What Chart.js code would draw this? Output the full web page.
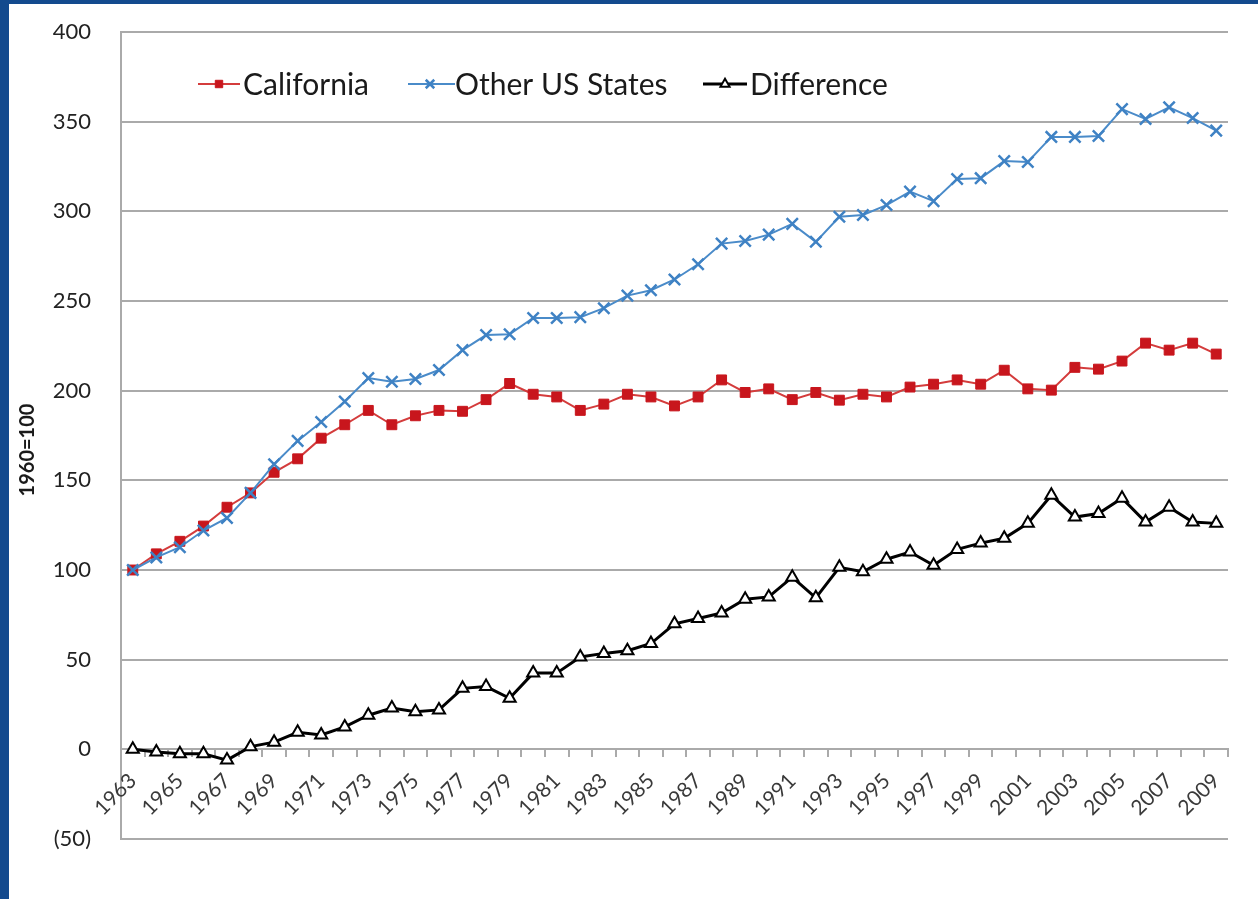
<!DOCTYPE html>
<html>
<head>
<meta charset="utf-8">
<script src="https://cdn.jsdelivr.net/npm/chart.js@4.4.1/dist/chart.umd.min.js"></script>
<style>
  html, body { margin: 0; padding: 0; width: 1258px; height: 899px; overflow: hidden; background: #134a8e; }
  #panel { position: absolute; left: 9px; top: 4px; width: 1249px; height: 895px; background: #ffffff; }
  canvas { display: block; }
</style>
</head>
<body>
<div id="panel"><canvas id="chart" width="1249" height="895"></canvas></div>
<script>
// Years on the category axis
const years = ['1963','1964','1965','1966','1967','1968','1969','1970','1971','1972',
  '1973','1974','1975','1976','1977','1978','1979','1980','1981','1982',
  '1983','1984','1985','1986','1987','1988','1989','1990','1991','1992',
  '1993','1994','1995','1996','1997','1998','1999','2000','2001','2002',
  '2003','2004','2005','2006','2007','2008','2009'];

// Index values, 1960 = 100
const california = [100,109,116,124.5,135,143,154.5,162,173.5,181,
  189,181,186,189,188.5,195,204,198,196.5,189,
  192.5,198,196.5,191.5,196.5,206,199,201,195,199,
  194.7,198,196.5,202,203.6,206,203.6,211.4,201,200.3,
  213,212,216.5,226.5,222.6,226.5,220.4];

const otherStates = [100,107,112.7,122,129,143,159,172,182.5,194,
  207,205,206.5,211.5,222.6,231,231.5,240.5,240.5,241,
  246,253,256,262,270.5,282,283.5,287,293,283,
  297,298,303.5,311,305.7,318,318.5,328,327.5,341.5,
  341.5,342,357,351.5,358,352,345];

const difference = [0,-1.5,-2.5,-2.5,-6,1.5,4,9.5,8,12.5,
  19,23,21,22,34,35,28.5,42.5,42.5,51.5,
  53.5,55,59,70,73,76,83.7,85,96,84.5,
  101.5,99,106,110,102.6,111.5,115,117.7,126,141.7,
  129.5,131.5,140,126.7,135,126.7,126];

const seriesNames = ['California', 'Other US States', 'Difference'];
const yAxisTitle = '1960=100';

const FONT = 'Lato, "Open Sans", sans-serif';
const GRID = '#aaaaaa';

function drawMarker(ctx, style, x, y, r) {
  if (style === 'rect') {
    const s = r * Math.SQRT1_2;
    ctx.rect(x - s, y - s, 2 * s, 2 * s);
  } else if (style === 'crossRot') {
    const o = r * Math.SQRT1_2;
    ctx.moveTo(x - o, y - o); ctx.lineTo(x + o, y + o);
    ctx.moveTo(x - o, y + o); ctx.lineTo(x + o, y - o);
  } else if (style === 'triangle') {
    ctx.moveTo(x, y - r);
    ctx.lineTo(x + 0.866 * r, y + 0.5 * r);
    ctx.lineTo(x - 0.866 * r, y + 0.5 * r);
    ctx.closePath();
  }
}

// Legend drawn inside the plot, plus the rotated value-axis title
const innerLegend = {
  id: 'innerLegend',
  afterDraw(chart) {
    const ctx = chart.ctx;
    const y = 80;
    const items = [
      { x0: 189, x1: 231, mx: 210, text: 234, ds: 0 },
      { x0: 399, x1: 446, mx: 421, text: 446, ds: 1 },
      { x0: 694, x1: 738, mx: 716, text: 741, ds: 2 }
    ];
    ctx.save();
    items.forEach(it => {
      const ds = chart.data.datasets[it.ds];
      ctx.strokeStyle = ds.borderColor;
      ctx.lineWidth = ds.borderWidth;
      ctx.beginPath();
      ctx.moveTo(it.x0, y);
      ctx.lineTo(it.x1, y);
      ctx.stroke();
      ctx.fillStyle = ds.pointBackgroundColor;
      ctx.strokeStyle = ds.pointBorderColor;
      ctx.lineWidth = ds.pointBorderWidth;
      ctx.beginPath();
      drawMarker(ctx, ds.pointStyle, it.mx, y, ds.pointRadius * 0.75);
      ctx.fill();
      ctx.stroke();
      ctx.fillStyle = '#1a1a1a';
      ctx.font = '30px ' + FONT;
      ctx.textBaseline = 'middle';
      ctx.textAlign = 'left';
      ctx.fillText(seriesNames[it.ds], it.text, y + 1);
    });

    ctx.translate(19, 446);
    ctx.rotate(-Math.PI / 2);
    ctx.font = 'bold 20px ' + FONT;
    ctx.fillStyle = '#1a1a1a';
    ctx.textAlign = 'center';
    ctx.textBaseline = 'middle';
    ctx.fillText(yAxisTitle, 0, 0);
    ctx.restore();
  }
};

new Chart(document.getElementById('chart'), {
  type: 'line',
  data: {
    labels: years,
    datasets: [
      {
        label: seriesNames[0],
        data: california,
        borderColor: '#d43c3c',
        borderWidth: 2,
        pointStyle: 'rect',
        pointRadius: 7,
        pointBackgroundColor: '#c8161d',
        pointBorderColor: '#c8161d',
        pointBorderWidth: 1,
        tension: 0,
        order: 3
      },
      {
        label: seriesNames[1],
        data: otherStates,
        borderColor: '#4a8bc9',
        borderWidth: 2,
        pointStyle: 'crossRot',
        pointRadius: 8,
        pointBackgroundColor: '#3f82c4',
        pointBorderColor: '#3f82c4',
        pointBorderWidth: 2.5,
        tension: 0,
        order: 2
      },
      {
        label: seriesNames[2],
        data: difference,
        borderColor: '#000000',
        borderWidth: 3,
        pointStyle: 'triangle',
        pointRadius: 7,
        pointBackgroundColor: '#ffffff',
        pointBorderColor: '#000000',
        pointBorderWidth: 2,
        tension: 0,
        order: 1
      }
    ]
  },
  options: {
    responsive: false,
    animation: false,
    layout: { padding: { left: 0, top: 28, right: 30, bottom: 60 } },
    plugins: {
      legend: { display: false },
      tooltip: { enabled: false }
    },
    scales: {
      y: {
        min: -50,
        max: 400,
        afterFit: s => { s.width = 112; s.paddingTop = 0; s.paddingBottom = 0; },
        ticks: {
          stepSize: 50,
          padding: 30,
          color: '#222222',
          font: { family: FONT, size: 22 },
          callback: v => (v < 0 ? '(' + (-v) + ')' : String(v))
        },
        grid: { color: GRID, lineWidth: 2, drawTicks: false },
        border: { display: true, color: GRID, width: 2 }
      },
      x: {
        position: { y: 0 },
        offset: true,
        afterFit: s => { s.height = 60; s.paddingTop = 0; s.paddingBottom = 0; },
        ticks: {
          autoSkip: false,
          minRotation: 45,
          maxRotation: 45,
          padding: 12,
          color: '#3a3a3a',
          font: { family: FONT, size: 21 },
          callback: function (v, i) { return i % 2 === 0 ? years[i] : ''; }
        },
        grid: {
          offset: true,
          drawOnChartArea: false,
          drawTicks: true,
          tickLength: 7,
          color: GRID,
          lineWidth: 2
        },
        border: { display: true, color: GRID, width: 2 }
      }
    }
  },
  plugins: [innerLegend]
});
</script>
</body>
</html>
